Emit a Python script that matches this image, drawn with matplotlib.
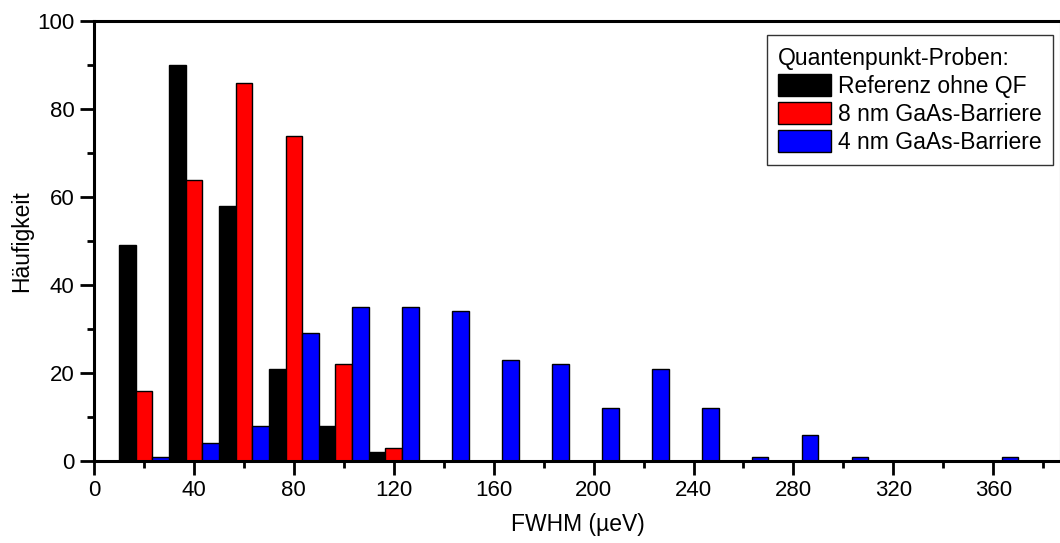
import numpy as np
import matplotlib
matplotlib.use("Agg")
import matplotlib.pyplot as plt
from matplotlib.ticker import MultipleLocator

plt.rcParams['font.family'] = ['Liberation Sans', 'DejaVu Sans']

# ---------------------------------------------------------------------------
# Data: histogram of FWHM values, bins of 20 µeV (bin centres)
# ---------------------------------------------------------------------------
bin_centers = [20, 40, 60, 80, 100, 120, 140, 160, 180, 200,
               220, 240, 260, 280, 300, 320, 340, 360]

ref_counts = [49, 90, 58, 21, 8, 2, 0, 0, 0, 0,
              0, 0, 0, 0, 0, 0, 0, 0]
gaas8_counts = [16, 64, 86, 74, 22, 3, 0, 0, 0, 0,
                0, 0, 0, 0, 0, 0, 0, 0]
gaas4_counts = [1, 4, 8, 29, 35, 35, 34, 23, 22, 12,
                21, 12, 1, 6, 1, 0, 0, 1]

series_names = ["Referenz ohne QF", "8 nm GaAs-Barriere", "4 nm GaAs-Barriere"]
series_colors = ["#000000", "#ff0000", "#0000ff"]

# ---------------------------------------------------------------------------
# Plot
# ---------------------------------------------------------------------------
fig = plt.figure(figsize=(10.6, 5.43), dpi=100)
ax = fig.add_axes([0.0887, 0.151, 0.912, 0.810])

x = np.array(bin_centers, dtype=float)
w = 20 / 3
offsets = [-w, 0, w]
all_counts = [ref_counts, gaas8_counts, gaas4_counts]

for counts, off, col, name in zip(all_counts, offsets, series_colors, series_names):
    counts = np.array(counts)
    mask = counts > 0
    ax.bar(x[mask] + off, counts[mask], width=w, color=col,
           edgecolor="black", linewidth=1.0, label=name)

ax.set_xlim(0, 387)
ax.set_ylim(0, 100)

ax.xaxis.set_major_locator(MultipleLocator(40))
ax.xaxis.set_minor_locator(MultipleLocator(20))
ax.yaxis.set_major_locator(MultipleLocator(20))
ax.yaxis.set_minor_locator(MultipleLocator(10))

ax.tick_params(which="both", direction="out", width=2.0, labelsize=16,
               top=False, right=False)
ax.tick_params(which="major", length=10, pad=4)
ax.tick_params(which="minor", length=5)

for side in ["left", "bottom", "top", "right"]:
    ax.spines[side].set_linewidth(2.2)

ax.set_xlabel("FWHM (µeV)", fontsize=16.5, labelpad=8)
ax.set_ylabel("Häufigkeit", fontsize=16.5, labelpad=3)

leg = ax.legend(title="Quantenpunkt-Proben:", loc="upper right",
                bbox_to_anchor=(0.992, 0.968), borderaxespad=0,
                fontsize=16.5, title_fontsize=16.5,
                frameon=True, fancybox=False, edgecolor="black",
                handlelength=2.3, handleheight=1.05, handletextpad=0.3,
                labelspacing=0.2, borderpad=0.5)
leg._legend_box.align = "left"
leg.get_frame().set_linewidth(1.0)

fig.savefig("out.png", dpi=100)
